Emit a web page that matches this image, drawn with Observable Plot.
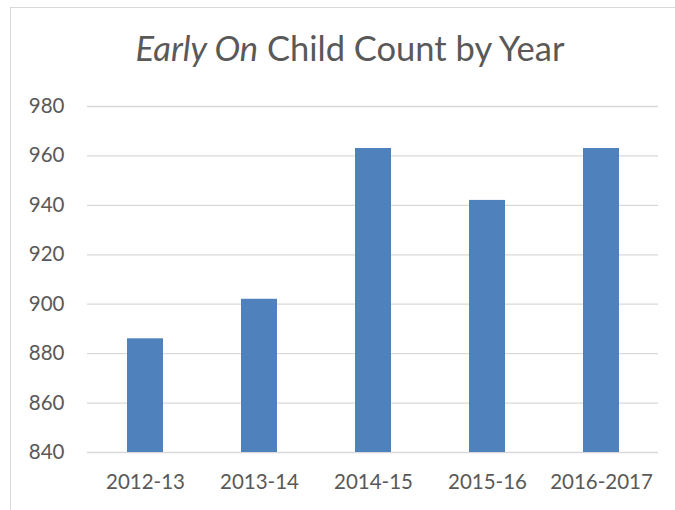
<!DOCTYPE html>
<html>
<head>
<meta charset="utf-8">
<script src="https://cdn.jsdelivr.net/npm/d3@7"></script>
<script src="https://cdn.jsdelivr.net/npm/@observablehq/plot@0.6"></script>
<style>
  html, body { margin: 0; padding: 0; background: #fff; }
  #wrap { position: relative; width: 675px; height: 510px; overflow: hidden; font-family: Lato, "Open Sans", sans-serif; }
  #frame { position: absolute; left: 10px; top: 7px; width: 720px; height: 600px; border: 1px solid #d9d9d9; box-sizing: border-box; }
  #title { position: absolute; left: 0; top: 28px; width: 700px; text-align: center; font-size: 34.5px; line-height: 40px; color: #595959; white-space: nowrap; }
  #chart { position: absolute; left: 0; top: 0; }
</style>
</head>
<body>
<div id="wrap">
  <div id="frame"></div>
  <div id="title"><i>Early On</i> Child Count by Year</div>
  <div id="chart"></div>
</div>
<script>
const years = ["2012-13", "2013-14", "2014-15", "2015-16", "2016-2017"];
const counts = [886, 902, 963, 942, 963];
const yTicks = [840, 860, 880, 900, 920, 940, 960, 980];
const yMin = 840;
const yMax = 980;

const data = years.map((year, i) => ({year, count: counts[i]}));

const chart = Plot.plot({
  width: 675,
  height: 510,
  marginLeft: 87,
  marginRight: 17,
  marginTop: 106,
  marginBottom: 58,
  style: {fontFamily: "Lato, 'Open Sans', sans-serif", fontSize: "20.5px", color: "#595959", background: "transparent"},
  x: {domain: years, paddingInner: 0.687, paddingOuter: 0.3435, label: null},
  y: {domain: [yMin, yMax], label: null},
  marks: [
    Plot.ruleY(yTicks, {stroke: "#d9d9d9", strokeWidth: 1.3}),
    Plot.barY(data, {x: "year", y1: () => yMin, y2: "count", fill: "#4f81bd"}),
    Plot.axisY({ticks: yTicks, tickSize: 0, tickPadding: 23, fill: "#595959", fontSize: 20.5, tickFormat: d => String(d)}),
    Plot.axisX({tickSize: 0, tickPadding: 22, fill: "#595959", fontSize: 20.5})
  ]
});
document.getElementById("chart").appendChild(chart);
</script>
</body>
</html>
